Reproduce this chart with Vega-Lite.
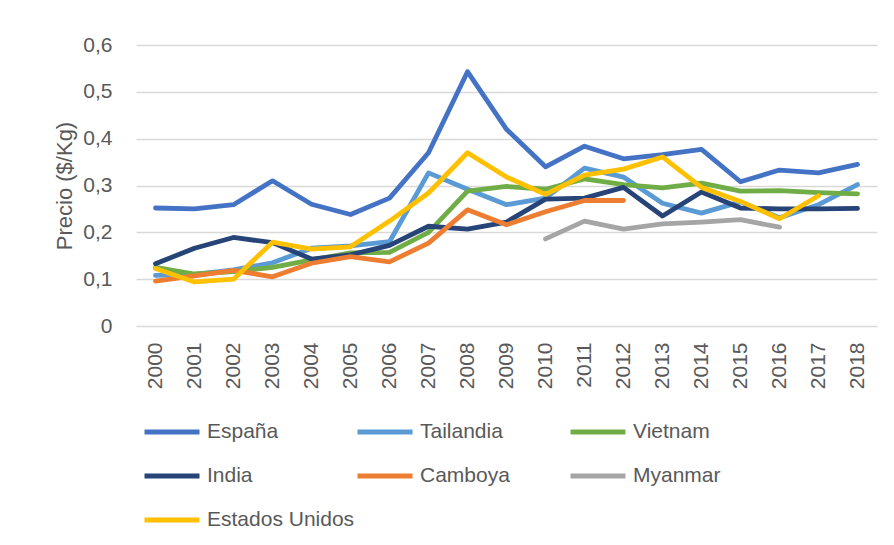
{
  "$schema": "https://vega.github.io/schema/vega-lite/v6.json",
  "autosize": {"type": "none"},
  "padding": {"left": 136, "top": 45, "right": 17, "bottom": 219},
  "width": 741,
  "height": 281,
  "background": "white",
  "config": {
    "view": {"stroke": null},
    "font": "Liberation Sans",
    "axis": {"labelColor": "#595959", "titleColor": "#595959", "labelFont": "Liberation Sans", "titleFont": "Liberation Sans"},
    "legend": {"labelColor": "#595959", "labelFont": "Liberation Sans"}
  },
  "data": {
    "values": [
      {"pais": "España", "anio": "2000", "precio": 0.252},
      {"pais": "España", "anio": "2001", "precio": 0.250},
      {"pais": "España", "anio": "2002", "precio": 0.259},
      {"pais": "España", "anio": "2003", "precio": 0.310},
      {"pais": "España", "anio": "2004", "precio": 0.260},
      {"pais": "España", "anio": "2005", "precio": 0.238},
      {"pais": "España", "anio": "2006", "precio": 0.273},
      {"pais": "España", "anio": "2007", "precio": 0.370},
      {"pais": "España", "anio": "2008", "precio": 0.543},
      {"pais": "España", "anio": "2009", "precio": 0.420},
      {"pais": "España", "anio": "2010", "precio": 0.340},
      {"pais": "España", "anio": "2011", "precio": 0.384},
      {"pais": "España", "anio": "2012", "precio": 0.357},
      {"pais": "España", "anio": "2013", "precio": 0.366},
      {"pais": "España", "anio": "2014", "precio": 0.377},
      {"pais": "España", "anio": "2015", "precio": 0.308},
      {"pais": "España", "anio": "2016", "precio": 0.333},
      {"pais": "España", "anio": "2017", "precio": 0.327},
      {"pais": "España", "anio": "2018", "precio": 0.345},
      {"pais": "Tailandia", "anio": "2000", "precio": 0.108},
      {"pais": "Tailandia", "anio": "2001", "precio": 0.110},
      {"pais": "Tailandia", "anio": "2002", "precio": 0.120},
      {"pais": "Tailandia", "anio": "2003", "precio": 0.135},
      {"pais": "Tailandia", "anio": "2004", "precio": 0.166},
      {"pais": "Tailandia", "anio": "2005", "precio": 0.171},
      {"pais": "Tailandia", "anio": "2006", "precio": 0.180},
      {"pais": "Tailandia", "anio": "2007", "precio": 0.327},
      {"pais": "Tailandia", "anio": "2008", "precio": 0.292},
      {"pais": "Tailandia", "anio": "2009", "precio": 0.259},
      {"pais": "Tailandia", "anio": "2010", "precio": 0.273},
      {"pais": "Tailandia", "anio": "2011", "precio": 0.337},
      {"pais": "Tailandia", "anio": "2012", "precio": 0.318},
      {"pais": "Tailandia", "anio": "2013", "precio": 0.262},
      {"pais": "Tailandia", "anio": "2014", "precio": 0.241},
      {"pais": "Tailandia", "anio": "2015", "precio": 0.265},
      {"pais": "Tailandia", "anio": "2016", "precio": 0.231},
      {"pais": "Tailandia", "anio": "2017", "precio": 0.259},
      {"pais": "Tailandia", "anio": "2018", "precio": 0.302},
      {"pais": "Vietnam", "anio": "2000", "precio": 0.125},
      {"pais": "Vietnam", "anio": "2001", "precio": 0.111},
      {"pais": "Vietnam", "anio": "2002", "precio": 0.116},
      {"pais": "Vietnam", "anio": "2003", "precio": 0.125},
      {"pais": "Vietnam", "anio": "2004", "precio": 0.141},
      {"pais": "Vietnam", "anio": "2005", "precio": 0.156},
      {"pais": "Vietnam", "anio": "2006", "precio": 0.157},
      {"pais": "Vietnam", "anio": "2007", "precio": 0.200},
      {"pais": "Vietnam", "anio": "2008", "precio": 0.288},
      {"pais": "Vietnam", "anio": "2009", "precio": 0.298},
      {"pais": "Vietnam", "anio": "2010", "precio": 0.292},
      {"pais": "Vietnam", "anio": "2011", "precio": 0.314},
      {"pais": "Vietnam", "anio": "2012", "precio": 0.302},
      {"pais": "Vietnam", "anio": "2013", "precio": 0.295},
      {"pais": "Vietnam", "anio": "2014", "precio": 0.305},
      {"pais": "Vietnam", "anio": "2015", "precio": 0.288},
      {"pais": "Vietnam", "anio": "2016", "precio": 0.289},
      {"pais": "Vietnam", "anio": "2017", "precio": 0.285},
      {"pais": "Vietnam", "anio": "2018", "precio": 0.282},
      {"pais": "India", "anio": "2000", "precio": 0.133},
      {"pais": "India", "anio": "2001", "precio": 0.166},
      {"pais": "India", "anio": "2002", "precio": 0.189},
      {"pais": "India", "anio": "2003", "precio": 0.178},
      {"pais": "India", "anio": "2004", "precio": 0.143},
      {"pais": "India", "anio": "2005", "precio": 0.152},
      {"pais": "India", "anio": "2006", "precio": 0.172},
      {"pais": "India", "anio": "2007", "precio": 0.213},
      {"pais": "India", "anio": "2008", "precio": 0.207},
      {"pais": "India", "anio": "2009", "precio": 0.222},
      {"pais": "India", "anio": "2010", "precio": 0.271},
      {"pais": "India", "anio": "2011", "precio": 0.273},
      {"pais": "India", "anio": "2012", "precio": 0.296},
      {"pais": "India", "anio": "2013", "precio": 0.235},
      {"pais": "India", "anio": "2014", "precio": 0.286},
      {"pais": "India", "anio": "2015", "precio": 0.252},
      {"pais": "India", "anio": "2016", "precio": 0.250},
      {"pais": "India", "anio": "2017", "precio": 0.250},
      {"pais": "India", "anio": "2018", "precio": 0.251},
      {"pais": "Camboya", "anio": "2000", "precio": 0.096},
      {"pais": "Camboya", "anio": "2001", "precio": 0.107},
      {"pais": "Camboya", "anio": "2002", "precio": 0.119},
      {"pais": "Camboya", "anio": "2003", "precio": 0.105},
      {"pais": "Camboya", "anio": "2004", "precio": 0.134},
      {"pais": "Camboya", "anio": "2005", "precio": 0.148},
      {"pais": "Camboya", "anio": "2006", "precio": 0.137},
      {"pais": "Camboya", "anio": "2007", "precio": 0.177},
      {"pais": "Camboya", "anio": "2008", "precio": 0.248},
      {"pais": "Camboya", "anio": "2009", "precio": 0.216},
      {"pais": "Camboya", "anio": "2010", "precio": 0.244},
      {"pais": "Camboya", "anio": "2011", "precio": 0.268},
      {"pais": "Camboya", "anio": "2012", "precio": 0.268},
      {"pais": "Myanmar", "anio": "2010", "precio": 0.186},
      {"pais": "Myanmar", "anio": "2011", "precio": 0.224},
      {"pais": "Myanmar", "anio": "2012", "precio": 0.207},
      {"pais": "Myanmar", "anio": "2013", "precio": 0.218},
      {"pais": "Myanmar", "anio": "2014", "precio": 0.222},
      {"pais": "Myanmar", "anio": "2015", "precio": 0.227},
      {"pais": "Myanmar", "anio": "2016", "precio": 0.211},
      {"pais": "Estados Unidos", "anio": "2000", "precio": 0.123},
      {"pais": "Estados Unidos", "anio": "2001", "precio": 0.094},
      {"pais": "Estados Unidos", "anio": "2002", "precio": 0.100},
      {"pais": "Estados Unidos", "anio": "2003", "precio": 0.179},
      {"pais": "Estados Unidos", "anio": "2004", "precio": 0.164},
      {"pais": "Estados Unidos", "anio": "2005", "precio": 0.169},
      {"pais": "Estados Unidos", "anio": "2006", "precio": 0.224},
      {"pais": "Estados Unidos", "anio": "2007", "precio": 0.284},
      {"pais": "Estados Unidos", "anio": "2008", "precio": 0.370},
      {"pais": "Estados Unidos", "anio": "2009", "precio": 0.318},
      {"pais": "Estados Unidos", "anio": "2010", "precio": 0.281},
      {"pais": "Estados Unidos", "anio": "2011", "precio": 0.322},
      {"pais": "Estados Unidos", "anio": "2012", "precio": 0.335},
      {"pais": "Estados Unidos", "anio": "2013", "precio": 0.361},
      {"pais": "Estados Unidos", "anio": "2014", "precio": 0.296},
      {"pais": "Estados Unidos", "anio": "2015", "precio": 0.266},
      {"pais": "Estados Unidos", "anio": "2016", "precio": 0.229},
      {"pais": "Estados Unidos", "anio": "2017", "precio": 0.278}
    ]
  },
  "mark": {"type": "line", "strokeWidth": 4.8, "strokeCap": "round", "strokeJoin": "round"},
  "encoding": {
    "x": {
      "field": "anio",
      "type": "ordinal",
      "scale": {"type": "point", "padding": 0.5},
      "axis": {
        "title": null,
        "labelAngle": 270,
        "labelFontSize": 21,
        "labelPadding": 16,
        "domain": false,
        "ticks": false,
        "grid": false
      }
    },
    "y": {
      "field": "precio",
      "type": "quantitative",
      "scale": {"domain": [0, 0.6], "nice": false},
      "axis": {
        "title": "Precio ($/Kg)",
        "titleFontSize": 22,
        "titleFontWeight": "normal",
        "titlePadding": 6,
        "values": [0, 0.1, 0.2, 0.3, 0.4, 0.5, 0.6],
        "labelExpr": "datum.value == 0 ? '0' : replace(format(datum.value, '.1f'), '.', ',')",
        "labelFontSize": 21,
        "labelPadding": 24,
        "domain": false,
        "ticks": false,
        "gridColor": "#D9D9D9",
        "gridWidth": 1.3
      }
    },
    "color": {
      "field": "pais",
      "type": "nominal",
      "scale": {
        "domain": ["España", "Tailandia", "Vietnam", "India", "Camboya", "Myanmar", "Estados Unidos"],
        "range": ["#4472C4", "#5B9BD5", "#70AD47", "#264478", "#ED7D31", "#A5A5A5", "#FFC000"]
      },
      "legend": {
        "title": null,
        "orient": "none",
        "direction": "horizontal",
        "legendX": 6,
        "legendY": 357,
        "columns": 3,
        "gridAlign": "all",
        "columnPadding": -9,
        "rowPadding": 4,
        "symbolType": "stroke",
        "symbolSize": 3025,
        "symbolStrokeWidth": 5,
        "symbolOffset": 0,
        "labelOffset": 5,
        "labelFontSize": 21,
        "labelLimit": 300
      }
    }
  }
}
